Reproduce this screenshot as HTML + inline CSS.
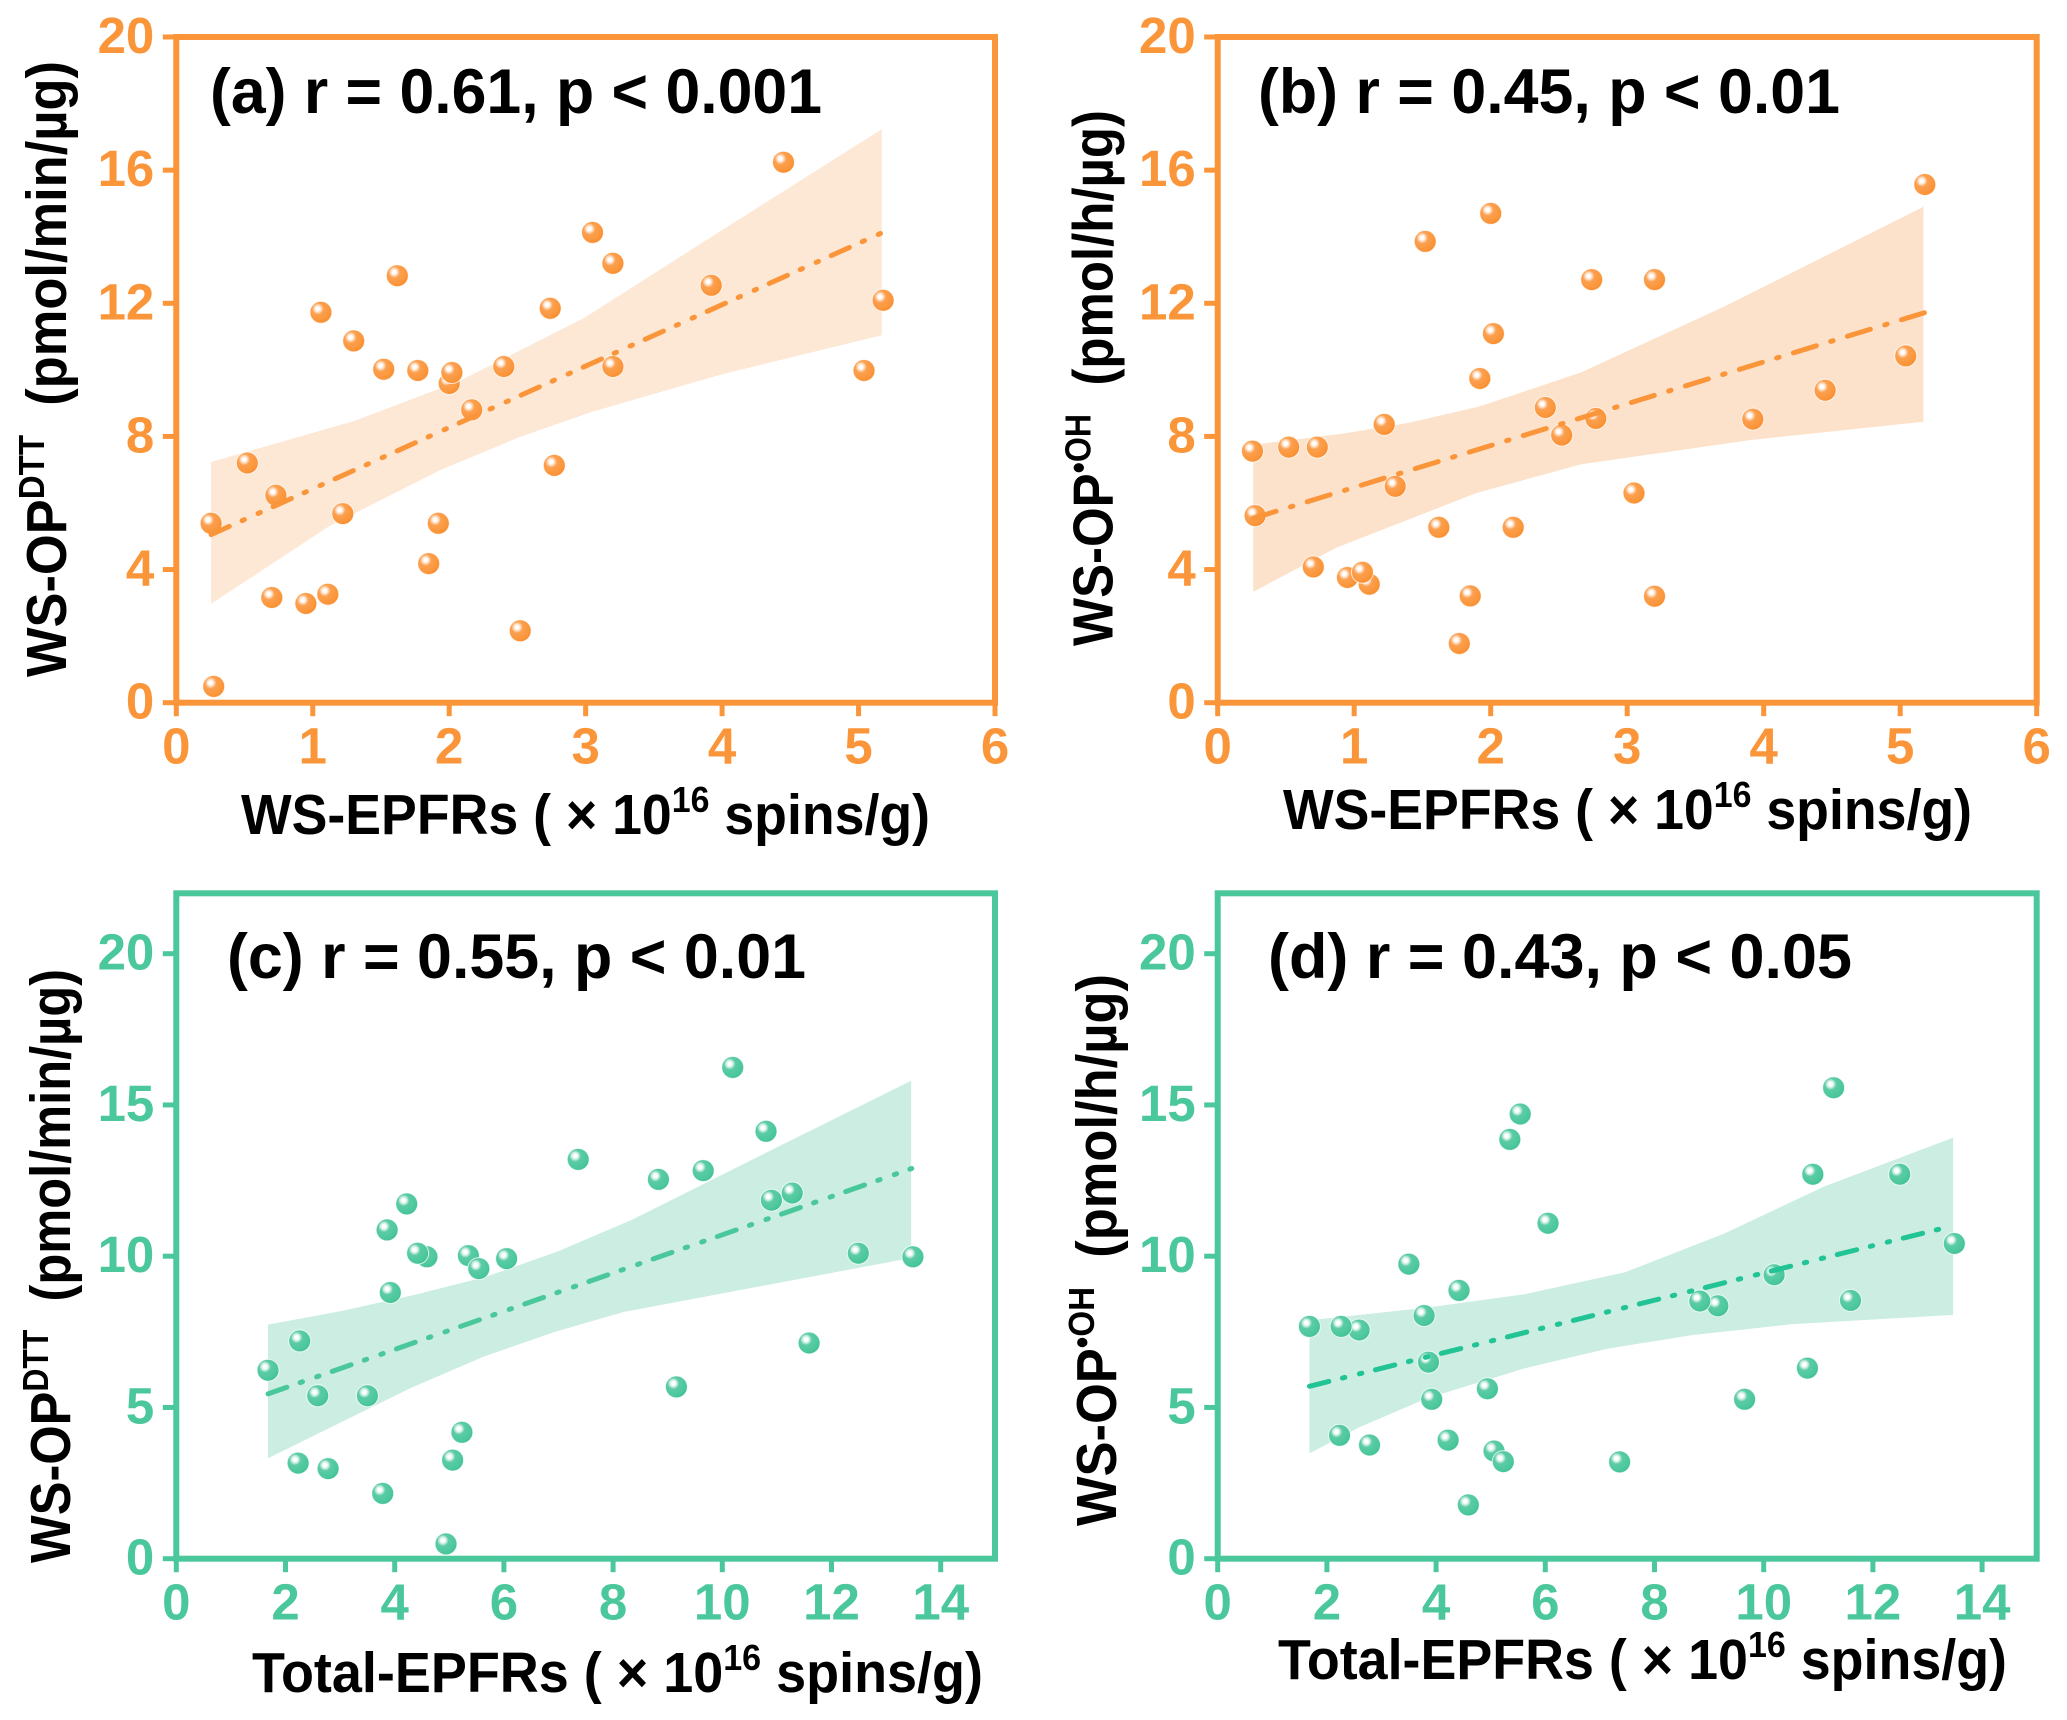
<!DOCTYPE html>
<html lang="en">
<head>
<meta charset="utf-8">
<title>EPFRs vs oxidative potential scatter plots</title>
<style>
html,body{margin:0;padding:0;background:#fff;}
svg{display:block;}
text{font-family:"Liberation Sans",Arial,sans-serif;font-weight:bold;}
</style>
</head>
<body>
<svg id="chart" xmlns="http://www.w3.org/2000/svg" width="2067" height="1720" viewBox="0 0 2067 1720">
<defs>
<radialGradient id="ballOrange" cx="0.36" cy="0.34" r="0.72">
<stop offset="0" stop-color="#ffffff"/><stop offset="0.11" stop-color="#ffffff"/><stop offset="0.24" stop-color="#fdd3ae"/><stop offset="0.36" stop-color="#fba050"/><stop offset="0.8" stop-color="#fb9539"/><stop offset="1" stop-color="#f68a2b"/>
</radialGradient>
<radialGradient id="ballGreen" cx="0.36" cy="0.34" r="0.72">
<stop offset="0" stop-color="#ffffff"/><stop offset="0.11" stop-color="#ffffff"/><stop offset="0.24" stop-color="#bfeadb"/><stop offset="0.36" stop-color="#5ccca5"/><stop offset="0.8" stop-color="#4bc79c"/><stop offset="1" stop-color="#3dbd90"/>
</radialGradient>
</defs>
</svg>
<script>
const wsEpfrs = [0.255,0.274,0.52,0.73,0.70,0.95,1.11,1.06,1.22,1.30,1.52,1.62,1.77,1.85,1.92,2.00,2.02,2.165,2.40,2.52,2.74,2.77,3.05,3.20,3.20,3.92,4.45,5.04,5.18];
const totalEpfrs = [2.59,4.94,2.26,1.68,2.23,2.78,5.06,4.22,9.16,3.86,5.35,9.65,4.59,5.23,3.50,5.54,6.05,3.92,4.42,3.78,10.90,11.59,10.80,7.36,12.49,8.83,10.19,13.49,11.28];
const opDtt = [5.39,0.49,7.20,6.23,3.16,2.98,3.26,11.73,5.68,10.87,10.02,12.83,9.98,4.18,5.39,9.59,9.92,8.80,10.10,2.16,11.85,7.13,14.13,13.20,10.10,12.54,16.24,9.98,12.09];
const opOh = [7.56,5.62,7.68,7.68,4.08,3.76,3.56,3.92,8.36,6.50,13.86,5.27,1.78,3.21,9.74,14.70,11.09,5.27,8.87,8.04,12.71,8.54,6.30,3.20,12.71,8.52,9.39,10.42,15.57];

const fitXa = [0.255,5.20];
const fitYa = [5.05,14.17];
const bandUpperXa = [0.255,1.31,2.08,2.99,4.00,5.17];
const bandUpperYa = [7.23,8.47,9.67,11.56,14.20,17.23];
const bandLowerXa = [0.255,1.12,1.93,2.51,3.04,4.00,5.17];
const bandLowerYa = [2.97,5.30,6.98,7.97,8.73,9.87,11.04];

const fitXb = [0.26,5.18];
const fitYb = [5.54,11.72];
const bandUpperXb = [0.26,0.93,1.39,1.91,2.66,3.71,5.17];
const bandUpperYb = [7.75,8.09,8.40,8.89,9.92,11.90,14.90];
const bandLowerXb = [0.26,0.86,1.39,1.89,2.66,3.90,5.17];
const bandLowerYb = [3.33,4.64,5.49,6.29,7.16,7.89,8.44];

const fitXc = [1.68,13.47];
const fitYc = [5.45,12.90];
const bandUpperXc = [1.68,3.05,4.36,5.67,6.97,8.34,11.00,13.46];
const bandUpperYc = [7.74,8.20,8.72,9.32,10.15,11.20,13.60,15.80];
const bandLowerXc = [1.68,4.28,5.63,6.94,8.20,13.25,13.46];
const bandLowerYc = [3.32,5.63,6.68,7.50,8.16,9.87,9.95];

const fitXd = [1.68,13.45];
const fitYd = [5.70,11.00];
const bandUpperXd = [1.68,3.83,5.64,7.46,9.27,11.09,13.47];
const bandUpperYd = [7.88,8.30,8.75,9.47,10.74,12.29,13.92];
const bandLowerXd = [1.68,2.60,3.83,5.64,7.10,8.67,10.50,13.47];
const bandLowerYd = [3.48,4.35,5.30,6.30,6.93,7.39,7.75,8.06];

const xTicksWs = [0,1,2,3,4,5,6];
const xTicksTotal = [0,2,4,6,8,10,12,14];
const yTicksTop = [0,4,8,12,16,20];
const yTicksBottom = [0,5,10,15,20];

const NS = 'http://www.w3.org/2000/svg';
const svg = document.getElementById('chart');
const ORANGE = '#fb953a', GREEN = '#4bc79c';

function make(tag, attrs, parent) {
  const el = document.createElementNS(NS, tag);
  for (const k in attrs) el.setAttribute(k, attrs[k]);
  parent.appendChild(el);
  return el;
}
function scale(d0, d1, r0, r1) {
  return v => r0 + (v - d0) / (d1 - d0) * (r1 - r0);
}
function addLabel(parent, attrs, parts) {
  const t = make('text', attrs, parent);
  let lift = 0;
  parts.forEach(p => {
    const s = document.createElementNS(NS, 'tspan');
    s.textContent = p.text;
    const target = p.raise || 0;
    if (target !== lift) s.setAttribute('dy', String(lift - target));
    if (p.size) s.setAttribute('font-size', p.size);
    lift = target;
    t.appendChild(s);
  });
  return t;
}

function drawPanel(cfg) {
  const g = make('g', {}, svg);
  
  
  const X = scale(cfg.xMin, cfg.xMax, cfg.left, cfg.right);
  const Y = scale(cfg.yMin, cfg.yMax, cfg.bottom, cfg.top);

  const upper = cfg.upX.map((v, i) => X(v).toFixed(1) + ',' + Y(cfg.upY[i]).toFixed(1));
  const lower = cfg.loX.map((v, i) => X(v).toFixed(1) + ',' + Y(cfg.loY[i]).toFixed(1)).reverse();
  const band = make('polygon', { points: upper.concat(lower).join(' '), fill: cfg.bandFill }, g);
  
  

  const frame = make('rect', { x: cfg.left, y: cfg.top2, width: cfg.right2 - cfg.left, height: cfg.bottom - cfg.top2, fill: 'none', stroke: cfg.color, 'stroke-width': 6 }, g);
  
  

  cfg.xTicks.forEach(v => {
    const tick = make('line', { x1: X(v), x2: X(v), y1: cfg.bottom, y2: cfg.bottom + 13.5, stroke: cfg.color, 'stroke-width': 5 }, g);
    
    
    const lab = make('text', { x: X(v), y: cfg.bottom + 61, 'text-anchor': 'middle', 'font-size': 51, fill: cfg.color }, g);
    lab.textContent = String(v);
    
    
  });
  cfg.yTicks.forEach(v => {
    const tick = make('line', { x1: cfg.left - 13.5, x2: cfg.left, y1: Y(v), y2: Y(v), stroke: cfg.color, 'stroke-width': 5 }, g);
    
    
    const lab = make('text', { x: cfg.left - 22, y: Y(v) + 16, 'text-anchor': 'end', 'font-size': 51, fill: cfg.color }, g);
    lab.textContent = String(v);
    
    
  });

  cfg.xs.forEach((v, i) => {
    const c = make('circle', { cx: X(v).toFixed(1), cy: Y(cfg.ys[i]).toFixed(1), r: 11, fill: 'url(#' + cfg.ball + ')', stroke: '#ffffff', 'stroke-opacity': 0.75, 'stroke-width': 1 }, g);
    
    
  });

  const fit = make('line', { x1: X(cfg.fitX[0]), y1: Y(cfg.fitY[0]), x2: X(cfg.fitX[1]), y2: Y(cfg.fitY[1]), stroke: cfg.lineColor, 'stroke-width': 5, 'stroke-linecap': 'round', 'stroke-dasharray': cfg.dash }, g);
  
  

  const title = make('text', { x: cfg.titleX, y: cfg.titleY, 'font-size': 63, fill: '#000', textLength: cfg.titleLen, lengthAdjust: 'spacingAndGlyphs' }, g);
  title.textContent = cfg.title;
  
  

  const xt = addLabel(g, { x: cfg.xLabX, y: cfg.xLabY, 'font-size': 57, fill: '#000', textLength: cfg.xLabLen, lengthAdjust: 'spacingAndGlyphs' }, [
    { text: cfg.xName + ' ( \u00d7 10' },
    { text: '16', raise: 22, size: 36 },
    { text: ' spins/g)' }
  ]);
  
  

  const yt = addLabel(g, { x: 0, y: 0, 'font-size': 57, fill: '#000', textLength: cfg.yLabLen, lengthAdjust: 'spacingAndGlyphs', transform: 'translate(' + cfg.yLabX + ',' + cfg.yLabY + ') rotate(-90)' }, [
    { text: 'WS-OP' },
    { text: cfg.ySup, raise: 22, size: 36 },
    { text: ' ' + cfg.yUnit }
  ]);
  
  
}

const DASH2 = '20 14 2.5 15 2.5 14';
const DASH1 = '24 15 2.5 15';

drawPanel({
  id: 'a', left: 176.3, right: 995, right2: 995, top: 37, top2: 37, bottom: 702.7,
  xMin: 0, xMax: 6, yMin: 0, yMax: 20, xTicks: xTicksWs, yTicks: yTicksTop,
  xs: wsEpfrs, ys: opDtt, fitX: fitXa, fitY: fitYa,
  upX: bandUpperXa, upY: bandUpperYa, loX: bandLowerXa, loY: bandLowerYa,
  color: ORANGE, lineColor: ORANGE, ball: 'ballOrange', bandFill: '#fde7d5', dash: DASH2,
  title: '(a) r = 0.61, p < 0.001', titleX: 210, titleY: 113, titleLen: 612,
  xName: 'WS-EPFRs', xLabX: 241, xLabY: 834, xLabLen: 689,
  ySup: 'DTT', yUnit: '\u00a0(pmol/min/\u00b5g)', yLabX: 66, yLabY: 677, yLabLen: 616
});
drawPanel({
  id: 'b', left: 1217.7, right: 2036.7, right2: 2036.7, top: 37, top2: 37, bottom: 702.7,
  xMin: 0, xMax: 6, yMin: 0, yMax: 20, xTicks: xTicksWs, yTicks: yTicksTop,
  xs: wsEpfrs, ys: opOh, fitX: fitXb, fitY: fitYb,
  upX: bandUpperXb, upY: bandUpperYb, loX: bandLowerXb, loY: bandLowerYb,
  color: ORANGE, lineColor: ORANGE, ball: 'ballOrange', bandFill: '#fde2cb', dash: DASH1,
  title: '(b) r = 0.45, p < 0.01', titleX: 1258, titleY: 113, titleLen: 582,
  xName: 'WS-EPFRs', xLabX: 1283, xLabY: 829, xLabLen: 689,
  ySup: '\u2022OH', yUnit: '\u00a0(pmol/h/\u00b5g)', yLabX: 1112.5, yLabY: 646, yLabLen: 536
});
drawPanel({
  id: 'c', left: 176.3, right: 995.3, right2: 995, top: 953.7, top2: 893.3, bottom: 1558.7,
  xMin: 0, xMax: 15, yMin: 0, yMax: 20, xTicks: xTicksTotal, yTicks: yTicksBottom,
  xs: totalEpfrs, ys: opDtt, fitX: fitXc, fitY: fitYc,
  upX: bandUpperXc, upY: bandUpperYc, loX: bandLowerXc, loY: bandLowerYc,
  color: GREEN, lineColor: GREEN, ball: 'ballGreen', bandFill: '#cceee2', dash: DASH2,
  title: '(c) r = 0.55, p < 0.01', titleX: 227, titleY: 978, titleLen: 579,
  xName: 'Total-EPFRs', xLabX: 252, xLabY: 1692, xLabLen: 731,
  ySup: 'DTT', yUnit: '\u00a0(pmol/min/\u00b5g)', yLabX: 70, yLabY: 1563, yLabLen: 594
});
drawPanel({
  id: 'd', left: 1217.7, right: 2036.7, right2: 2036.7, top: 953.7, top2: 893.3, bottom: 1558.7,
  xMin: 0, xMax: 15, yMin: 0, yMax: 20, xTicks: xTicksTotal, yTicks: yTicksBottom,
  xs: totalEpfrs, ys: opOh, fitX: fitXd, fitY: fitYd,
  upX: bandUpperXd, upY: bandUpperYd, loX: bandLowerXd, loY: bandLowerYd,
  color: GREEN, lineColor: '#22c495', ball: 'ballGreen', bandFill: '#cceee2', dash: DASH2,
  title: '(d) r = 0.43, p < 0.05', titleX: 1268, titleY: 978, titleLen: 584,
  xName: 'Total-EPFRs', xLabX: 1278, xLabY: 1679, xLabLen: 729,
  ySup: '\u2022OH', yUnit: '\u00a0(pmol/h/\u00b5g)', yLabX: 1116, yLabY: 1526, yLabLen: 552
});
</script>
</body>
</html>
